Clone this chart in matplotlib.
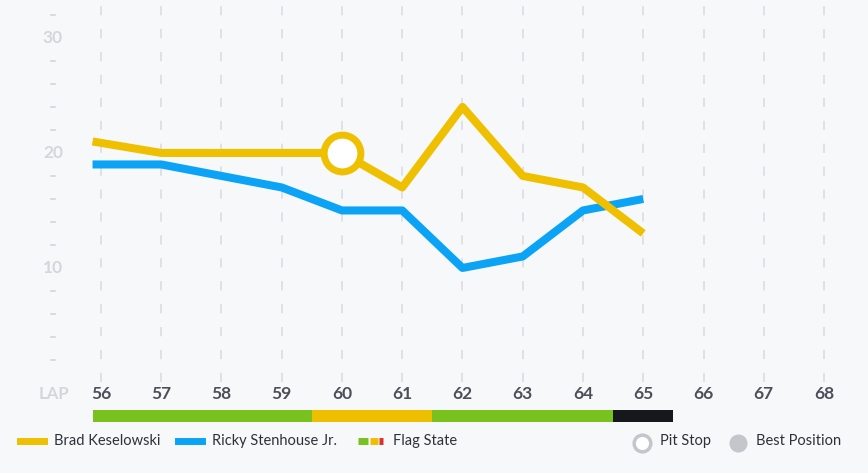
import numpy as np
import matplotlib.pyplot as plt
import matplotlib.transforms as mtransforms

laps = [55.86, 57, 58, 59, 60, 61, 62, 63, 64, 65]
brad = [21, 20, 20, 20, 20, 17, 24, 18, 17, 13]
ricky = [19, 19, 18, 17, 15, 15, 10, 11, 15, 16]
all_laps = list(range(56, 69))
pit_lap, pit_pos = 60, 20
y_major = [10, 20, 30]
y_minor = [2, 4, 6, 8, 12, 14, 16, 18, 22, 24, 26, 28, 32]
# flag segments: (start lap, end lap, color)
flag_start = [55.86, 59.5, 61.5, 64.5]
flag_end = [59.5, 61.5, 64.5, 65.5]
flag_col = ["#78c11f", "#eebf00", "#78c11f", "#16181c"]

YELLOW = "#efc000"
BLUE = "#0aa3f5"
BG = "#f7f8fa"
LIGHT = "#d3d6db"
DARK = "#4b5058"
TXT = "#2e3238"

plt.rcParams['font.family'] = ['Lato', 'DejaVu Sans']

fig = plt.figure(figsize=(8.68, 4.73), dpi=100, facecolor=BG)
ax = fig.add_axes([0, 0, 1, 1], facecolor=BG)
ax.set_xlim(54.324, 68.730)
ax.set_ylim(-7.83, 33.30)
ax.axis("off")

# vertical dashed grid
for l in all_laps:
    ax.plot([l, l], [0.1, 33.3], color="#d8dadf", lw=1.1, ls=(0, (6, 9)), zorder=1)
    ax.text(l, -0.95, str(l), ha="center", va="center", fontsize=12.5,
            color=DARK, fontweight="bold")

# y labels
trans = mtransforms.blended_transform_factory(fig.transFigure, ax.transData)
for v in y_major:
    ax.text(53 / 868, v, str(v), transform=trans, ha="center", va="center",
            fontsize=12.5, color=LIGHT, fontweight="bold")
for v in y_minor:
    ax.plot([51 / 868, 55 / 868], [v, v], transform=trans, color=LIGHT, lw=1.2)
ax.text(54 / 868, -0.95, "LAP", transform=trans, ha="center", va="center",
        fontsize=12, color=LIGHT, fontweight="bold")

# lines
ax.plot(laps, ricky, color=BLUE, lw=5.8, solid_joinstyle="round",
        solid_capstyle="butt", zorder=3)
ax.plot(laps, brad, color=YELLOW, lw=5.8, solid_joinstyle="round",
        solid_capstyle="butt", zorder=4)
ax.scatter([pit_lap], [pit_pos], s=700, facecolor="white", edgecolor=YELLOW,
           linewidth=5, zorder=5)

# flag bar
for s, e, c in zip(flag_start, flag_end, flag_col):
    ax.fill_between([s, e], -2.35, -3.42, color=c, lw=0, zorder=2)

# legend
def fx(px):
    return px / 868

def fy(py):
    return 1 - py / 473

ly = 441
fig.add_artist(plt.Line2D([fx(20), fx(44)], [fy(ly), fy(ly)], color=YELLOW, lw=5))
fig.text(fx(54), fy(ly), "Brad Keselowski", fontsize=10.5, color=TXT, va="center")
fig.add_artist(plt.Line2D([fx(178), fx(202)], [fy(ly), fy(ly)], color=BLUE, lw=5))
fig.text(fx(212), fy(ly), "Ricky Stenhouse Jr.", fontsize=10.5, color=TXT, va="center")
for a, b, c in [(358, 368, "#78c11f"), (370, 378, "#eebf00"), (379, 383, "#e0302c")]:
    fig.add_artist(plt.Line2D([fx(a), fx(b)], [fy(ly), fy(ly)], color=c, lw=5,
                              solid_capstyle="butt"))
fig.text(fx(393), fy(ly), "Flag State", fontsize=10.5, color=TXT, va="center")
fig.add_artist(plt.Line2D([fx(642)], [fy(443)], marker="o", markersize=12,
                          markerfacecolor="white", markeredgecolor="#c3c6cb",
                          markeredgewidth=2.5))
fig.text(fx(660), fy(ly), "Pit Stop", fontsize=10.5, color=TXT, va="center")
fig.add_artist(plt.Line2D([fx(738)], [fy(443)], marker="o", markersize=12,
                          markerfacecolor="#c3c6cb", markeredgecolor="#c3c6cb"))
fig.text(fx(756), fy(ly), "Best Position", fontsize=10.5, color=TXT, va="center")

fig.savefig("out.png", dpi=100, facecolor=BG)
